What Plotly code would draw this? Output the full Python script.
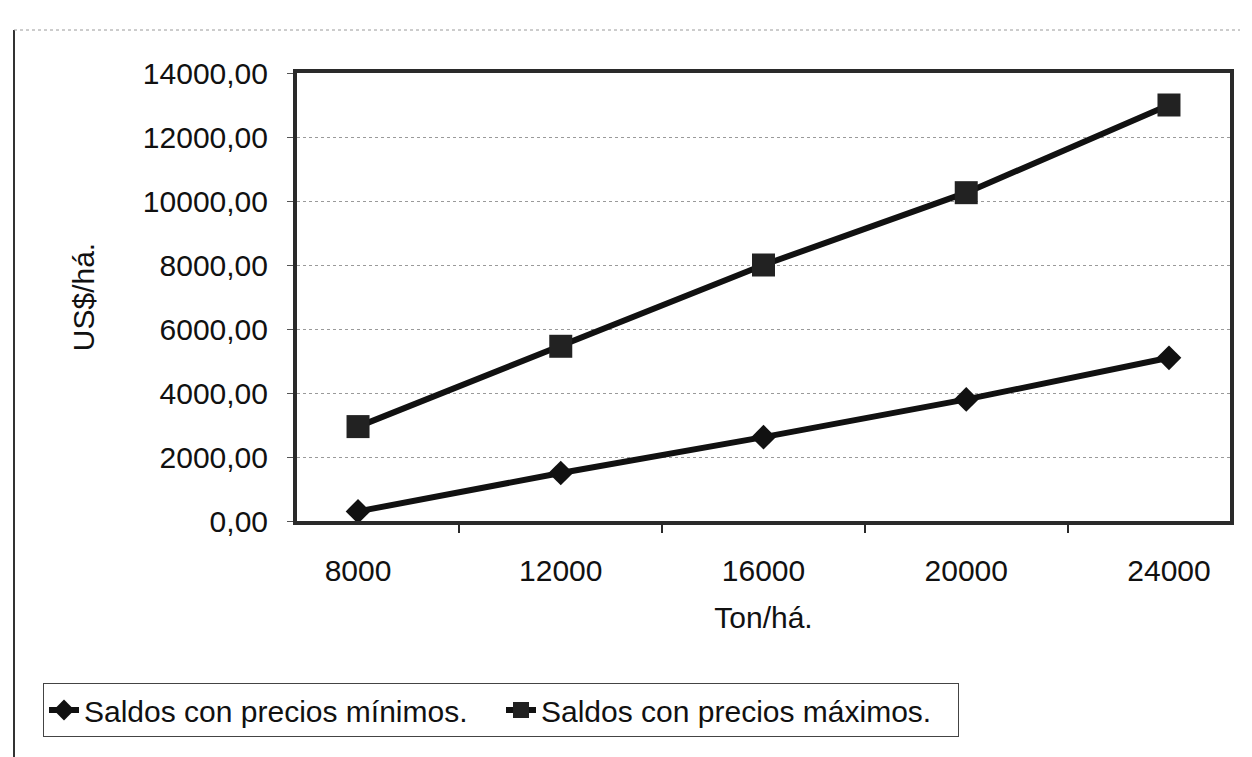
import plotly.graph_objects as go

# Yield levels (Ton/há.) and balances (US$/há.)
rendimientos = ["8000", "12000", "16000", "20000", "24000"]
saldos_minimos = [300, 1500, 2620, 3800, 5100]
saldos_maximos = [2950, 5460, 8000, 10260, 13000]
y_ticks = [0, 2000, 4000, 6000, 8000, 10000, 12000, 14000]

W, H = 1252, 757
L, R, T, B = 297, 22, 73, 236
PW, PH = W - L - R, H - T - B

FONT = "Liberation Sans, Arial, sans-serif"
INK = "#111111"


def px_x(p):
    return (p - L) / PW


def px_y(p):
    return (H - B - p) / PH


fig = go.Figure()
fig.add_trace(go.Scatter(
    x=rendimientos, y=saldos_minimos, mode="lines+markers",
    name="Saldos con precios mínimos.",
    line=dict(color=INK, width=6),
    marker=dict(symbol="diamond", size=19, color=INK),
))
fig.add_trace(go.Scatter(
    x=rendimientos, y=saldos_maximos, mode="lines+markers",
    name="Saldos con precios máximos.",
    line=dict(color=INK, width=6),
    marker=dict(symbol="square", size=23, color="#222222"),
))

fig.update_layout(
    width=W, height=H,
    margin=dict(l=L, r=R, t=T, b=B, autoexpand=False),
    paper_bgcolor="white", plot_bgcolor="white",
    separators=",.",
    font=dict(family=FONT, size=30, color=INK),
    showlegend=True,
    legend=dict(
        orientation="h",
        xref="container", yref="container",
        x=43 / W, y=1 - 683 / H, xanchor="left", yanchor="top",
        bordercolor="#444444", borderwidth=1,
        font=dict(family=FONT, size=30, color=INK),
        entrywidth=412, entrywidthmode="pixels",
        itemsizing="trace",
    ),
    xaxis=dict(
        type="category",
        title=dict(text="Ton/há.", standoff=22, font=dict(size=30)),
        showline=True, linecolor="#2a2a2a", linewidth=4, mirror=True,
        ticks="outside", ticklen=8, tickwidth=2, tickcolor="#2a2a2a",
        tickson="boundaries",
        ticklabelstandoff=20,
        showgrid=False, zeroline=False,
        tickfont=dict(size=30),
    ),
    yaxis=dict(
        range=[0, 14000],
        tickvals=y_ticks, tickformat=".2f",
        title=dict(text="US$/há.", standoff=40, font=dict(size=30)),
        showline=True, linecolor="#2a2a2a", linewidth=4, mirror=True,
        ticks="outside", ticklen=6, tickwidth=1, tickcolor="#555555",
        ticklabelstandoff=13,
        showgrid=True, gridcolor="#9a9a9a", gridwidth=1, griddash="dot",
        zeroline=False,
        tickfont=dict(size=30),
    ),
)

# Outer chart frame: solid left edge and dotted top edge
fig.add_shape(type="line", xref="paper", yref="paper",
              x0=px_x(14), x1=px_x(14), y0=px_y(30), y1=px_y(H),
              line=dict(color="#333333", width=2))
fig.add_shape(type="line", xref="paper", yref="paper",
              x0=px_x(14), x1=px_x(1240), y0=px_y(30), y1=px_y(30),
              line=dict(color="#9a9a9a", width=1, dash="dot"))

fig.write_html("out.html")
